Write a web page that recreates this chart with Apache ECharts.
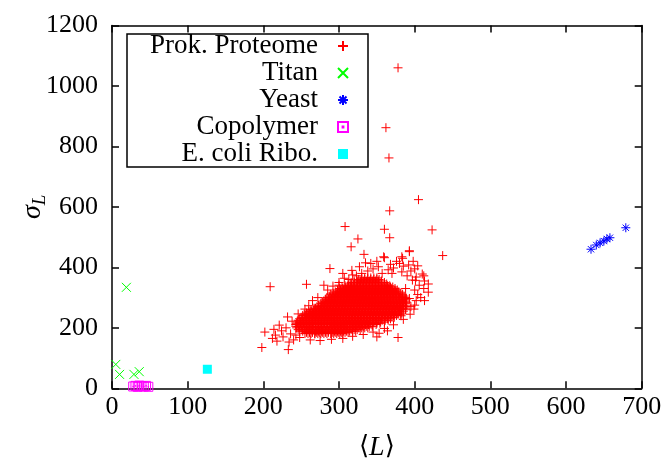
<!DOCTYPE html>
<html><head><meta charset="utf-8">
<script src="https://cdn.jsdelivr.net/npm/echarts@6/dist/echarts.min.js"></script>
<style>html,body{margin:0;padding:0;background:#fff}#c{width:671px;height:465px}</style>
</head><body><div id="c"></div><script>
const FONT = '"Liberation Serif", "Times New Roman", serif';
const xTicks = [0, 100, 200, 300, 400, 500, 600, 700];
const yTicks = [0, 200, 400, 600, 800, 1000, 1200];
const seriesNames = ['Prok. Proteome', 'Titan', 'Yeast', 'Copolymer', 'E. coli Ribo.'];

// dense core of the proteome cloud (estimated): [y, [x values]]
const prokCoreRows = [
 [181, [255,259,263,268,272,276,280,284,289,293,297,301,305]],
 [185, [257,261,265,270,274,278,282,286,291,295,299,303,308,312]],
 [189, [248,252,257,261,265,269,273,277,282,286,290,294,298,302,306,310,314,318,322]],
 [194, [246,250,254,259,263,267,271,275,279,284,288,292,296,300,304,308,312,316,320,324,328]],
 [200, [244,248,252,256,260,264,269,273,277,281,285,289,293,297,301,305,309,314,318,322,326,330,334,338]],
 [205, [243,246,250,254,258,262,266,271,275,279,283,287,291,295,299,303,307,311,316,320,324,328,332,336,340,344]],
 [211, [243,247,251,255,259,263,267,271,275,279,283,287,291,295,299,303,307,311,315,319,323,327,331,335,339,344,349]],
 [215, [244,249,253,257,261,265,269,273,277,281,285,289,293,297,301,305,309,313,317,321,325,329,333,337,341,346,350,354]],
 [219, [245,249,253,257,261,265,269,273,277,281,285,290,294,298,302,306,310,314,318,322,326,330,334,338,342,346,350,355,360]],
 [225, [246,251,255,259,263,267,271,275,279,283,287,292,296,300,304,308,312,316,320,324,328,332,336,340,344,348,352,357,361,365]],
 [230, [248,252,256,260,264,268,272,276,280,284,288,292,296,300,304,308,312,316,320,324,328,332,336,340,344,348,352,356,360,364,368]],
 [235, [250,254,258,262,266,270,274,278,282,286,290,294,298,302,306,310,314,318,322,326,330,334,338,342,346,350,354,358,362,366,370,373]],
 [241, [252,256,260,264,268,272,276,280,284,288,292,296,300,304,308,312,316,320,324,328,332,336,340,344,348,352,356,360,364,368,372,376]],
 [245, [254,258,262,266,270,274,278,282,286,290,294,298,302,306,310,314,318,322,326,330,334,338,342,346,350,354,358,362,366,370,374,378,381]],
 [249, [257,261,265,269,273,277,281,285,289,293,297,301,305,309,313,317,321,325,329,333,337,341,345,349,353,357,361,365,369,373,378,383]],
 [255, [260,263,267,271,275,279,283,287,291,295,299,303,307,311,315,319,323,327,331,335,339,343,347,351,355,359,363,367,371,375,380,385]],
 [260, [263,267,271,275,279,283,287,291,295,299,303,307,311,315,319,323,327,331,335,339,343,347,351,355,359,363,367,371,375,379,383,388]],
 [265, [267,269,273,277,281,285,289,293,297,301,305,309,313,317,321,325,329,333,337,341,345,349,353,357,361,365,369,373,377,381,385,388]],
 [270, [271,275,279,283,287,291,295,299,303,307,311,315,319,323,327,331,335,339,343,347,351,355,359,363,367,371,375,379,383,388]],
 [275, [273,277,281,285,289,293,297,301,305,309,313,317,321,325,329,333,337,341,345,349,353,357,361,365,369,373,377,381,385,389]],
 [281, [276,280,284,288,292,296,300,304,308,312,316,320,324,328,332,336,340,344,348,352,356,360,364,368,372,376,380,384,388]],
 [285, [278,282,286,290,294,298,302,306,310,314,318,322,326,330,334,338,342,346,350,354,358,362,366,370,374,378,382,386,389]],
 [289, [280,284,288,292,296,300,304,308,312,316,320,324,328,332,336,340,344,348,352,356,360,364,368,372,376,380,384,388]],
 [295, [282,286,290,294,298,302,306,310,314,318,322,326,330,334,338,342,346,350,354,358,362,366,370,374,378,382,386,389]],
 [300, [284,288,292,296,300,304,308,312,316,320,324,328,332,336,340,344,348,352,356,360,364,368,372,376,380,384,388]],
 [305, [287,291,295,299,303,307,311,315,319,323,327,331,335,339,343,347,351,355,359,363,367,371,375,379,383,386]],
 [311, [289,293,297,301,305,309,313,317,321,325,329,333,337,341,345,349,353,357,361,365,369,373,378,384]],
 [315, [292,296,300,304,308,312,316,320,324,328,332,336,340,344,348,352,356,360,364,368,372,376,381]],
 [319, [295,299,303,307,311,315,319,323,327,331,335,339,343,347,351,355,359,363,367,371,375,379]],
 [325, [298,302,306,310,314,318,322,326,330,334,338,342,346,350,354,358,362,366,370,374,377]],
 [330, [301,305,309,313,317,321,325,329,333,337,341,345,349,353,357,361,365,369,374]],
 [335, [304,308,312,316,320,324,328,332,336,340,344,348,352,356,360,364,368,371]],
 [339, [308,312,316,320,324,328,332,336,340,344,348,352,356,360,364,367]],
 [345, [312,316,320,324,328,332,336,340,344,348,352,356,360,363]],
 [350, [316,320,324,328,332,336,340,344,348,352,356,360]],
 [355, [320,324,328,332,336,340,344,348,352,356]],
 [360, [326,330,334,338,342,346,350,353]],
 [365, [330,334,338,342,346,350]]
];
// sparse proteome points around the core (estimated)
const prokScatter = [
 [378,1060],[362,862],[366,762],[405,624],[367,587],[308,535],[360,526],[423,524],[367,498],[325,494],
 [316,468],[437,439],[393,455],[288,396],[209,336],[257,344],[198,135],[233,128],[378,168],[353,182],
 [418,318],[202,186],[383,435],[380,413],[333,443],[360,432],[342,413],[327,402],[216,176],[221,209],
 [212,165],[232,236],[260,273],[280,341],[300,341],[307,364],[318,375],[382,240],[400,275],[406,341],
 [397,358],[388,330],[393,297],[243,176],[234,153],[218,156],[413,355],[384,430],[359,435],[393,452],
 [345,395],[352,402],[338,388],[365,392],[372,398],[357,380],[370,380],[383,385],[390,372],[395,388],
 [402,368],[410,378],[330,380],[323,372],[313,360],[300,350],[292,338],[285,325],[272,300],[265,290],
 [255,262],[246,246],[238,222],[230,200],[224,190],[236,180],[248,168],[262,160],[275,158],[290,162],
 [305,165],[318,172],[332,178],[345,186],[360,198],[372,210],[385,228],[394,245],[399,262],[402,290],
 [404,310],[400,325],[412,330],[408,300],[392,408],[400,395],[376,420],[350,420],[335,415],[317,390],
 [305,380],[368,410],[385,404],[398,420],[404,405],[214,195],[226,170],[240,160],[268,180],[350,170],
 [364,190],[395,270],[413,290],[418,345],[412,372],[401,357]
];
const titan = [[5,79],[10,46],[19,334],[29,46],[36,55]];
const yeast = [[633,460],[640,474],[645,481],[650,487],[654,494],[658,498],[679,531]];
const copolymer = [[28,6],[31,8],[34,5],[36,9],[39,7],[42,6],[45,8],[48,5]];
const ecoli = [[126,63]];

const prokData = prokScatter.concat(prokCoreRows.flatMap(r => r[1].map(x => [x, r[0]])));

const SYM_PLUS = 'path://M0,5H10M5,0V10';
const SYM_CROSS = 'path://M0,0L10,10M10,0L0,10';
const SYM_STAR = 'path://M0,5H10M5,0V10M1.5,1.5L8.5,8.5M8.5,1.5L1.5,8.5';
const SYM_BOXDOT = 'path://M0,0H10V10H0ZM4.6,4.6H5.4V5.4H4.6Z';
const SYM_BOX = 'path://M0,0H10V10H0Z';

function sc(name, data, symbol, size, fill, stroke, bw) {
  return {
    type: 'scatter', name, data, symbol, symbolSize: size, symbolKeepAspect: true,
    silent: true, animation: false, xAxisIndex: 0, yAxisIndex: 0, large: false,
    itemStyle: { color: fill, borderColor: stroke, borderWidth: bw, opacity: 1 },
    emphasis: { disabled: true }
  };
}

const axisCommon = {
  axisLine: { show: true, onZero: false, lineStyle: { color: '#000', width: 1.5 } },
  axisTick: { show: true, inside: true, length: 7, lineStyle: { color: '#000', width: 1.5 } },
  splitLine: { show: false }
};
const xMin = xTicks[0], xMax = xTicks[xTicks.length - 1], xInt = xTicks[1] - xTicks[0];
const yMin = yTicks[0], yMax = yTicks[yTicks.length - 1], yInt = yTicks[1] - yTicks[0];
const plain = v => String(v);

const chart = echarts.init(document.getElementById('c'), null, { renderer: 'canvas' });
chart.setOption({
  animation: false,
  backgroundColor: '#fff',
  grid: { left: 112, right: 29.3, top: 25.5, bottom: 76.7, containLabel: false, outerBoundsMode: 'none' },
  xAxis: [
    Object.assign({ type: 'value', position: 'bottom', min: xMin, max: xMax, interval: xInt,
      axisLabel: { color: '#000', fontFamily: FONT, fontSize: 26, margin: 6, formatter: plain },
      name: '{b|⟨}{i|L}{b|⟩}', nameLocation: 'middle', nameGap: 45, nameMoveOverlap: false,
      nameTextStyle: { color: '#000', rich: {
        b: { fontFamily: '"DejaVu Serif", serif', fontSize: 26, color: '#000' },
        i: { fontFamily: FONT, fontStyle: 'italic', fontSize: 28, color: '#000' } } }
    }, axisCommon),
    Object.assign({ type: 'value', position: 'top', min: xMin, max: xMax, interval: xInt,
      axisLabel: { show: false } }, axisCommon)
  ],
  yAxis: [
    Object.assign({ type: 'value', position: 'left', min: yMin, max: yMax, interval: yInt,
      axisLabel: { color: '#000', fontFamily: FONT, fontSize: 26, margin: 14, formatter: plain },
      name: '{s|σ}{l|L}', nameLocation: 'middle', nameGap: 63, nameRotate: 90, nameMoveOverlap: false,
      nameTextStyle: { color: '#000', rich: {
        s: { fontFamily: FONT, fontStyle: 'italic', fontSize: 28, color: '#000' },
        l: { fontFamily: FONT, fontStyle: 'italic', fontSize: 19, color: '#000', verticalAlign: 'bottom', padding: [14, 0, 0, 0] } } }
    }, axisCommon),
    Object.assign({ type: 'value', position: 'right', min: yMin, max: yMax, interval: yInt,
      axisLabel: { show: false } }, axisCommon)
  ],
  graphic: [{
    type: 'rect', z: 5, silent: true,
    shape: { x: 127, y: 34, width: 241, height: 133 },
    style: { fill: '#fff', stroke: '#000', lineWidth: 1.5 }
  }],
  legend: {
    z: 10, orient: 'vertical', align: 'right', right: 322, top: 32.5, padding: 0, itemGap: 0,
    itemWidth: 10, itemHeight: 10, selectedMode: false,
    data: seriesNames,
    textStyle: { color: '#000', fontFamily: FONT, fontSize: 27, lineHeight: 27, padding: [0, 15, 0, 0] }
  },
  series: [
    sc(seriesNames[0], prokData, SYM_PLUS, 9, '#ff0000', '#ff0000', 1),
    sc(seriesNames[1], titan, SYM_CROSS, 9, '#00ff00', '#00ff00', 1),
    sc(seriesNames[2], yeast, SYM_STAR, 9, '#0000ff', '#0000ff', 1),
    sc(seriesNames[3], copolymer, SYM_BOXDOT, 9, 'rgba(0,0,0,0)', '#ff00ff', 1),
    sc(seriesNames[4], ecoli, SYM_BOX, 9, '#00ffff', '#00ffff', 0)
  ]
});
</script></body></html>
